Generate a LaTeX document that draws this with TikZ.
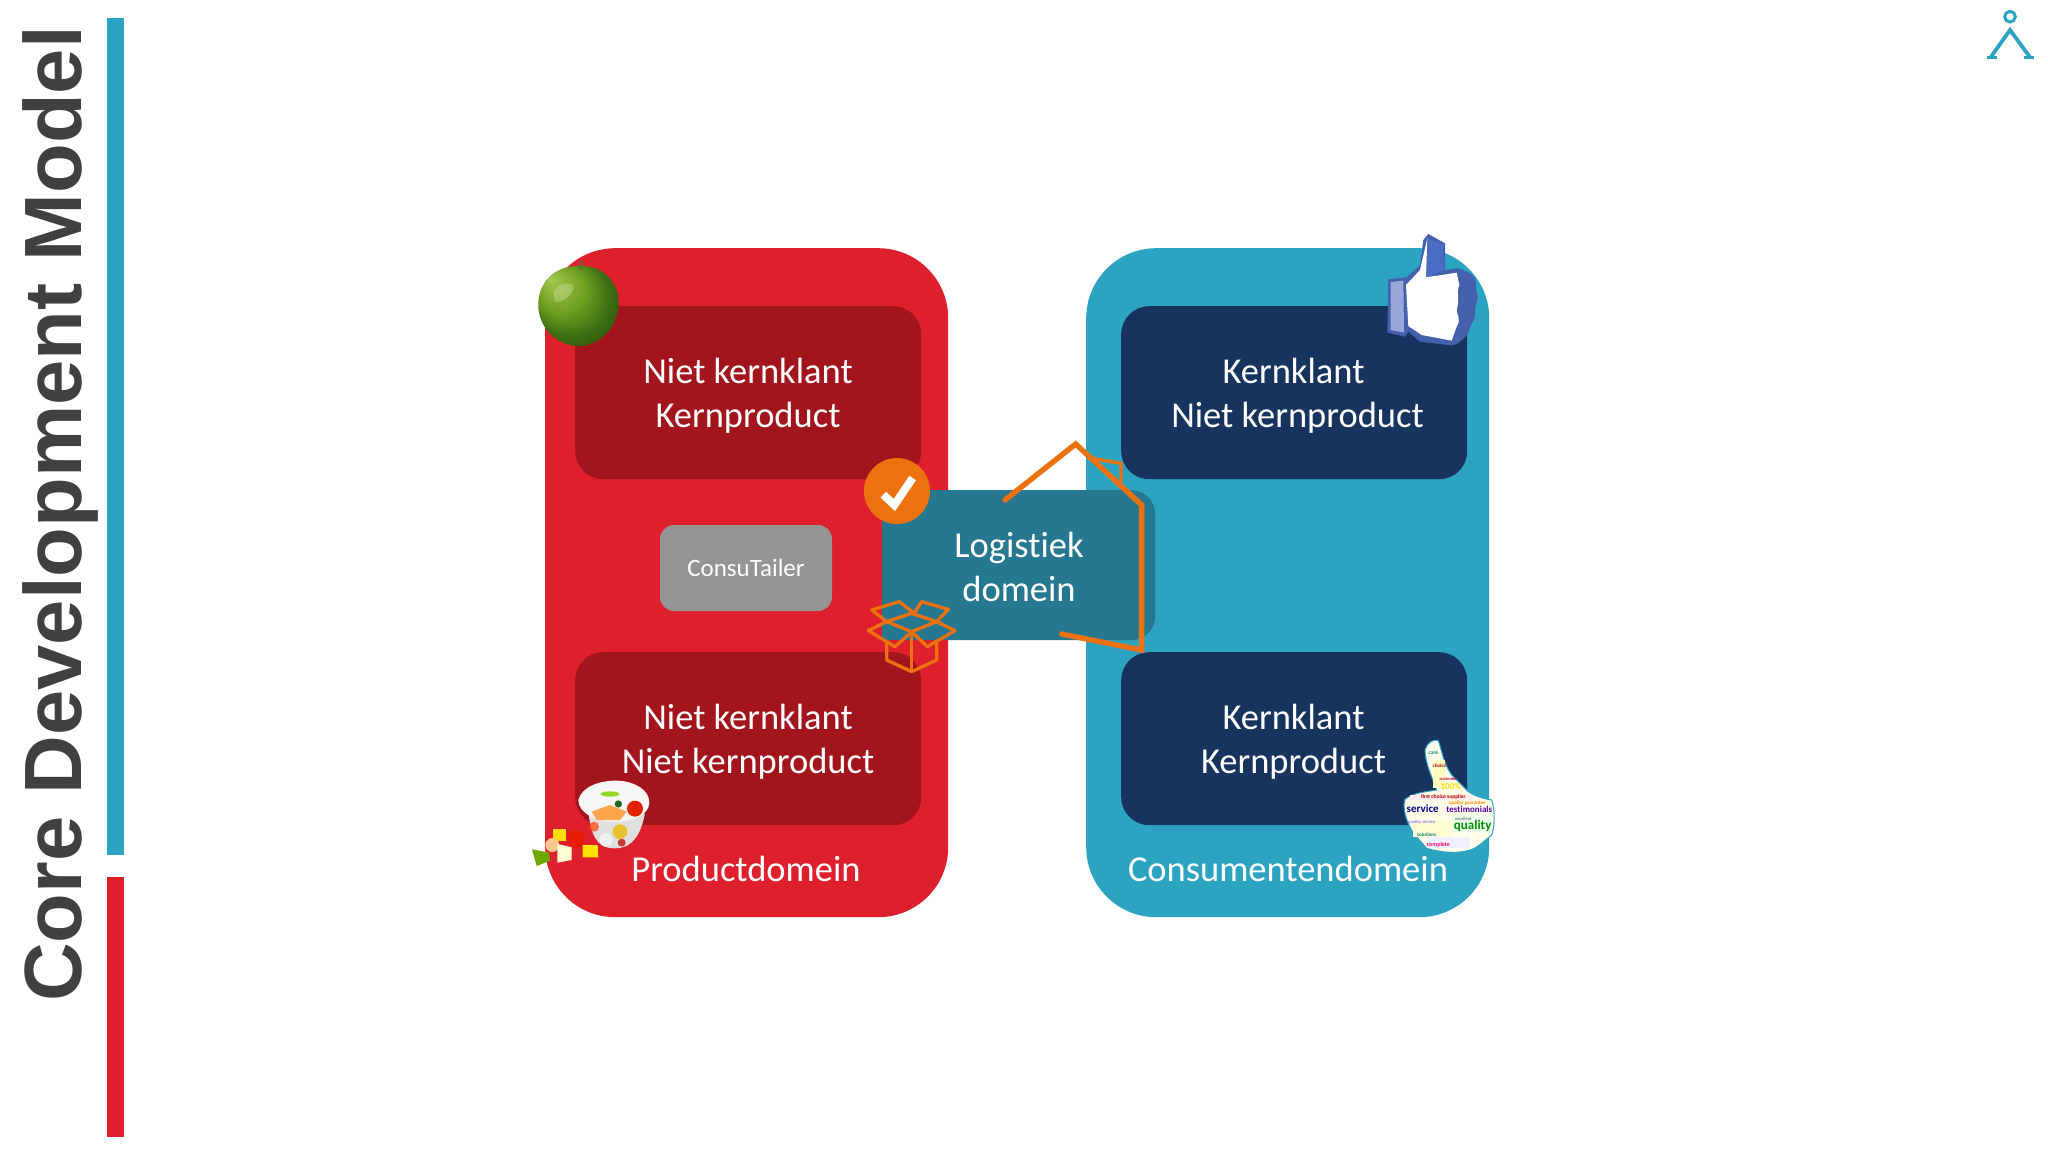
\documentclass[tikz,border=0pt]{standalone}
\usepackage{fontspec}
\setmainfont{Carlito}[Ligatures=CommonOff]
\newfontfamily\titlefont{Liberation Sans}
\definecolor{cred}{HTML}{DE1F2C}
\definecolor{cdred}{HTML}{A3151D}
\definecolor{cblue}{HTML}{2DA3C2}
\definecolor{cnavy}{HTML}{17345F}
\definecolor{cteal}{HTML}{25788F}
\definecolor{corange}{HTML}{EC7210}
\definecolor{cgrey}{HTML}{959595}
\definecolor{ctitle}{HTML}{404040}
\definecolor{fbblue}{HTML}{4A6CC4}
\definecolor{fbdark}{HTML}{4560AC}
\definecolor{fblight}{HTML}{99A8D8}
\definecolor{appleA}{HTML}{A4C850}
\definecolor{appleB}{HTML}{6FA020}
\definecolor{appleC}{HTML}{3C6E12}
\pgfdeclareradialshading{appleshade}{\pgfpoint{-0.6cm}{0.6cm}}{%
 color(0cm)=(appleA); color(0.5cm)=(appleB); color(0.85cm)=(appleC); color(1.2cm)=(appleC!70!black)}
\tikzset{
 panel/.style={rounded corners=70pt,minimum width=403pt,minimum height=669pt,anchor=north west,inner sep=0pt},
 inbox/.style={rounded corners=28pt,minimum width=346pt,minimum height=173pt,anchor=north west,inner sep=0pt},
 dlabel/.style={text=white,font=\fontsize{36.5}{44}\selectfont,inner sep=0pt,align=center},
 housepen/.style={draw=corange,line width=5.4pt,line cap=round,line join=miter},
 boxpen/.style={draw=corange,line width=3.3pt,line join=round},
 word/.style={inner sep=0pt,font=\bfseries\fontsize{#1}{#1}\selectfont},
}
\begin{document}
\begin{tikzpicture}[x=1pt,y=-1pt]
\useasboundingbox (0,0) rectangle (2048,1154);
% title and bars
\node[rotate=90,inner sep=0pt,text=ctitle,font=\titlefont\bfseries\fontsize{81.3}{85}\selectfont] (title) at (60,514) {Core Development Model};
\node[fill=cblue,inner sep=0pt,minimum width=17pt,minimum height=837pt,anchor=north west] (barblue) at (107,18) {};
\node[fill=cred,inner sep=0pt,minimum width=17pt,minimum height=260pt,anchor=north west] (barred) at (107,877) {};
% panels
\node[panel,fill=cred] (prod) at (545,248) {};
\node[panel,fill=cblue] (cons) at (1086,248) {};
\node[inbox,fill=cdred] (a) at (575,306) {};
\node[inbox,fill=cdred] (b) at (575,652) {};
\node[inbox,fill=cnavy] (c) at (1121,306) {};
\node[inbox,fill=cnavy] (d) at (1121,652) {};
\node[dlabel] (at) at (748,396) {Niet kernklant\\Kernproduct};
\node[dlabel] (bt) at (748,742) {Niet kernklant\\Niet kernproduct};
\node[dlabel] (ct1) at (1293.5,396) {Kernklant\\\hspace*{8pt}Niet kernproduct};
\node[dlabel] (dt) at (1293.5,742) {Kernklant\\Kernproduct};
\node[fill=cgrey,rounded corners=14pt,minimum width=172pt,minimum height=86pt,inner sep=0pt,text=white,font=\fontsize{25}{26}\selectfont] (ct) at (746,568) {\raisebox{-2.5pt}{ConsuTailer}};
\node[dlabel] (pl) at (746,869) {Productdomein};
\node[dlabel] (cl) at (1288,869) {Consumentendomein};
% logistics
\node[fill=cteal,rounded corners=24pt,minimum width=273pt,minimum height=150pt,inner sep=0pt,anchor=north west] (logbg) at (882,490) {};
\fill[cteal] (882,490) rectangle (920,640);
\node[dlabel] (log) at (1019,567) {Logistiek\\domein};
% house
\begin{scope}[shift={(840,420)},x=0.3333pt,y=-0.3333pt]
\draw[housepen] (495,240)--(707,72)--(905,255)--(905,690)--(665,642);
\draw[housepen,line width=3.4pt] (755,115)--(843,130)--(843,185);
% box
\draw[boxpen] (140,605)--(95,570)--(178,545)--(222,580);
\draw[boxpen] (222,580)--(245,545)--(325,568)--(290,605);
\draw[boxpen] (140,605)--(215,580)--(290,605)--(215,635)--cycle;
\draw[boxpen] (140,605)--(85,632)--(165,680)--(215,635);
\draw[boxpen] (290,605)--(345,632)--(262,680)--(215,635);
\draw[boxpen] (140,665)--(140,720)--(215,755)--(290,720)--(290,665);
\draw[boxpen] (215,635)--(215,755);
\end{scope}
% check badge
\node[circle,fill=corange,minimum size=66pt,inner sep=0pt] (badge) at (897,491) {};
\begin{scope}[shift={(840,420)},x=0.3333pt,y=-0.3333pt]
\draw[white,line width=8pt,line join=miter,line cap=butt] (130,224)--(163,255)--(218,174);
\end{scope}
% apple
\begin{scope}[shift={(520,230)},x=0.3333pt,y=-0.3333pt]
\shade[shading=appleshade]
 (55,215) .. controls (60,150) and (110,105) .. (180,108)
 .. controls (250,105) and (298,160) .. (296,220)
 .. controls (295,290) and (240,348) .. (175,348)
 .. controls (110,348) and (50,290) .. (55,215) -- cycle;
\fill[appleA!60!white,opacity=.45] (100,190) .. controls (105,165) and (140,155) .. (160,165) .. controls (165,190) and (130,220) .. (105,215) -- cycle;
\fill[appleC!70!gray] (178,118) -- (180,92) -- (186,92) -- (186,118) -- cycle;
\end{scope}
% thumbs up (blue)
\begin{scope}[shift={(1340,220)},x=0.3333pt,y=-0.3333pt]
\fill[fbdark] (145,178) -- (200,172) -- (240,135) -- (250,60) -- (265,42) -- (315,70) -- (315,150) -- (355,145)
 .. controls (385,155) and (410,165) .. (408,195) .. controls (405,215) and (418,225) .. (412,245)
 .. controls (400,265) and (410,280) .. (402,300) .. controls (385,320) and (390,340) .. (375,352)
 .. controls (360,365) and (345,380) .. (330,376) -- (240,365) -- (205,335) -- (195,350) -- (142,338) -- cycle;
\fill[fblight] (152,186) -- (190,182) -- (192,338) -- (152,330) -- cycle;
\fill[fbblue] (265,55) -- (310,75) -- (312,150) -- (260,172) -- cycle;
\fill[white] (262,55) -- (258,172) -- (350,158) -- (358,195) .. controls (348,220) and (360,240) .. (350,270) .. controls (350,285) and (365,295) .. (350,320) -- (335,362) -- (245,345) -- (205,318) -- (198,195) -- (240,150) -- cycle;
\end{scope}
% word-cloud thumb
\begin{scope}[shift={(1380,720)},x=0.3333pt,y=-0.3333pt]
\path[fill=white!92!yellow,draw=cblue,line width=1pt] (135,90) .. controls (140,70) and (160,55) .. (175,62) .. controls (185,90) and (190,130) .. (215,165) -- (255,205) .. controls (265,220) and (300,235) .. (335,240) .. controls (345,270) and (345,320) .. (335,345) .. controls (310,365) and (290,385) .. (270,390) .. controls (240,400) and (190,400) .. (140,385) -- (105,345) .. controls (85,320) and (65,270) .. (75,238) .. controls (100,218) and (140,215) .. (170,210) .. controls (160,180) and (135,130) .. (135,90) -- cycle;
\fill[yellow!25] (160,120) rectangle (195,205);
\fill[red!8] (90,225) rectangle (280,240);
\fill[green!8] (215,285) rectangle (330,335);
\fill[yellow!18] (100,300) rectangle (215,350);
\fill[blue!6] (140,352) rectangle (270,385);
\node[word=5.5,text=teal] (w1) at (160,98) {care};
\node[word=5,text=red!70!black] (w2) at (178,138) {choice};
\node[word=4.5,text=purple] (w3) at (205,178) {customer};
\node[word=9,text=yellow!80!orange] (w4) at (212,200) {100\%};
\node[word=5.5,text=red!75!black] (w5) at (190,232) {first choice supplier};
\node[word=5,text=orange] (w6) at (262,250) {quality guarantee};
\node[word=11,text=blue!60!black] (w7) at (128,265) {service};
\node[word=9,text=violet!70!blue] (w8) at (268,268) {testimonials};
\node[word=13,text=green!55!black] (w9) at (278,317) {quality};
\node[word=4.5,text=gray] (w10) at (250,296) {excellent};
\node[word=5,text=teal] (w11) at (140,343) {solutions};
\node[word=6,text=magenta!70!red] (w12) at (175,374) {complete};
\node[word=4.5,text=blue!50] (w13) at (125,308) {quality service};
\end{scope}
% fruit
\begin{scope}[shift={(520,770)},x=0.3333pt,y=-0.3333pt]
\fill[gray!25!white] (205,130) .. controls (215,190) and (225,235) .. (285,235) .. controls (345,235) and (365,180) .. (375,130) -- cycle;
\fill[white!93!gray] (175,90) .. controls (185,50) and (240,30) .. (295,32) .. controls (345,35) and (390,60) .. (388,100) .. controls (385,135) and (340,155) .. (285,155) .. controls (230,155) and (175,130) .. (175,90) -- cycle;
\fill[orange!70!white] (215,125) -- (270,105) -- (320,125) -- (300,150) -- (230,150) -- cycle;
\fill[red!70!orange!90!black] (345,116) circle[radius=24];
\fill[green!35!black!70!gray] (295,102) circle[radius=11];
\fill[green!40!yellow!70!gray] (270,72) ellipse[x radius=28,y radius=8];
\fill[yellow!65!orange!80!gray] (300,185) circle[radius=22];
\fill[red!50!orange,opacity=.7] (222,170) circle[radius=15];
\fill[white!88!gray] (258,210) circle[radius=20];
\fill[red!55!gray] (305,218) circle[radius=12];
\fill[yellow!80!orange] (100,178) rectangle (138,212);
\fill[orange!45!white] (97,225) circle[radius=21];
\fill[red!75!orange!90!black] (168,207) circle[radius=26];
\fill[white!82!yellow] (112,222) -- (155,232) -- (155,270) -- (112,278) -- cycle;
\fill[yellow!85!orange] (188,225) -- (233,225) -- (235,262) -- (188,262) -- cycle;
\fill[green!35!yellow!65!black] (36,238) -- (88,248) -- (90,272) -- (50,288) -- cycle;
\end{scope}
% logo
\begin{scope}[shift={(1960,0)},x=0.3333pt,y=-0.3333pt]
\draw[cblue,line width=3pt] (150,50) circle[radius=16];
\draw[cblue,line width=3.8pt,line join=miter] (92,172)--(150,90)--(210,172);
\draw[cblue,line width=2.8pt] (80,172)--(110,172) (193,172)--(223,172);
\end{scope}
\end{tikzpicture}
\end{document}
